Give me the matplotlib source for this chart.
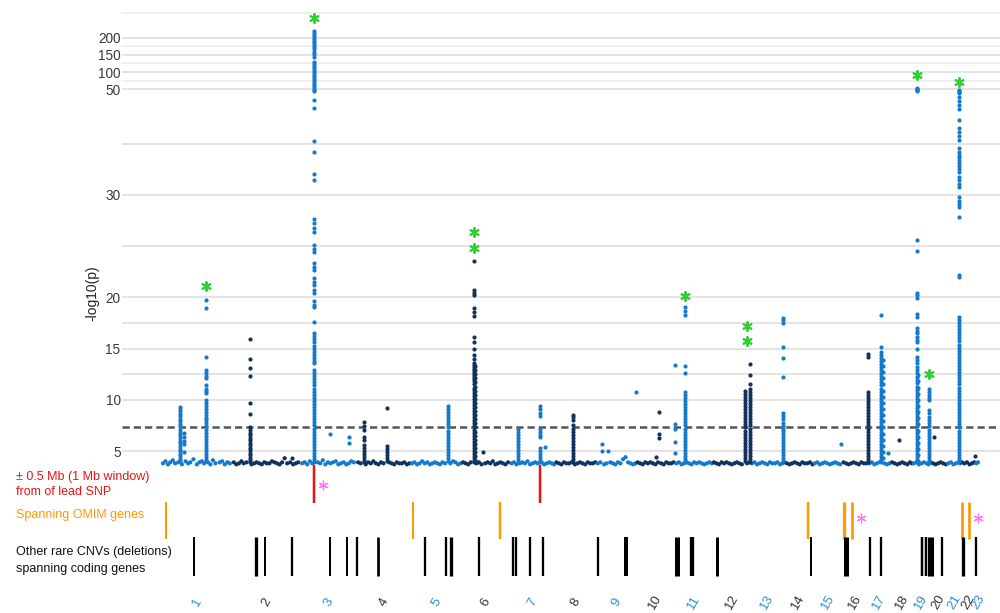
import numpy as np
import matplotlib
matplotlib.use("Agg")
import matplotlib.pyplot as plt

plt.rcParams['font.family'] = ['Liberation Sans', 'DejaVu Sans']

# ---------------- data ----------------
chrom_names = [str(i) for i in range(1, 24)]
chrom_len_mb = [249.3, 243.2, 198.0, 191.2, 180.9, 171.1, 159.1, 146.4, 141.2, 135.5,
                135.0, 133.9, 115.2, 107.3, 102.5, 90.4, 81.2, 78.1, 59.1, 63.0,
                48.1, 51.3, 18.0]

# association peaks: chromosome, position within chromosome (Mb), -log10(p) values
peak_chr = [1, 1, 1, 2, 2, 3, 3, 3, 4, 4,
            5, 6, 6, 6, 7, 7, 7, 8, 9, 9,
            9, 10, 10, 11, 11, 12, 12, 13, 15, 16,
            17, 17, 17, 18, 19, 19, 19, 20, 21, 22]
peak_pos = [66, 78.6, 156.5, 63, 211.7, 47.5, 103, 170.5, 25.5, 107,
            132, 43, 45, 76, 27.6, 103.7, 123, 63, 18.5, 42,
            139, 80, 70, 1.5, 37, 114, 132.5, 114, 98, 89.5,
            48, 52, 71, 29, 14, 16.5, 57, 15, 42, 50]
peak_vals = [
    [9.3, 9.1, 8.9, 8.6, 8.4, 8.1, 7.9, 7.6, 7.4, 7.1, 6.8, 6.6, 6.3, 6.0, 5.8, 5.5, 5.2, 5.0, 4.7, 4.5, 4.2, 4.0],
    [6.8, 6.4, 6.0, 5.7, 4.9],
    [19.7, 19.0, 14.2, 12.9, 12.6, 12.3, 12.1, 11.4, 11.1, 10.9, 10.7, 10.0, 9.7, 9.4, 9.1, 8.8, 8.5, 8.2, 8.0,
     7.7, 7.4, 7.1, 6.8, 6.5, 6.2, 5.9, 5.6, 5.3, 5.0, 4.7, 4.4, 4.1],
    [15.9, 14.0, 13.1, 12.3, 9.7, 8.6, 7.3, 7.1, 6.8, 6.6, 6.3, 6.1, 5.8, 5.6, 5.3, 5.1, 4.8, 4.6, 4.3, 4.1, 3.9],
    [4.3],
    [221, 215, 208, 202, 196, 190, 184, 178, 172, 166, 158, 152, 145, 130, 124, 118, 112, 106, 100, 94, 88, 82,
     76, 70, 64, 58, 52, 47, 43, 39.3, 38.5, 35.3, 34.2, 32.0, 31.5, 27.7, 27.3, 26.8, 26.4, 25.1, 24.7, 24.4,
     23.4, 23.0, 22.7, 21.9, 21.5, 21.2, 20.7, 20.4, 19.6, 19.3, 19.1, 17.6, 16.5, 16.2, 15.9, 15.6, 15.3, 15.0,
     14.7, 14.4, 14.1, 13.8, 13.6, 12.9, 12.6, 12.3, 12.0, 11.7, 11.4, 11.1, 10.8, 10.5, 10.2, 9.9, 9.6, 9.3,
     9.0, 8.7, 8.4, 8.1, 7.8, 7.5, 7.2, 6.9, 6.6, 6.3, 6.0, 5.7, 5.4, 5.1, 4.8, 4.5, 4.2, 3.9],
    [6.7],
    [6.4, 5.8],
    [7.8, 7.4, 7.1, 6.4, 6.1, 5.6, 5.3, 5.0, 4.7, 4.4, 4.1, 3.9],
    [9.2, 5.5, 5.2, 4.9, 4.6, 4.3, 4.0],
    [9.4, 9.1, 8.8, 8.5, 8.2, 7.9, 7.6, 7.3, 7.0, 6.7, 6.4, 6.1, 5.8, 5.5, 5.2, 4.9, 4.6, 4.3, 4.0],
    [23.6, 20.7, 20.4, 20.2, 19.0, 18.6, 18.2, 16.1, 15.6, 15.0, 14.4, 14.0, 13.6, 13.4, 13.2, 13.0, 12.8, 12.6,
     12.4, 12.2, 12.0, 11.8, 11.5, 11.2, 11.0, 10.7, 10.4, 10.1, 9.8, 9.5, 9.2, 8.9, 8.6, 8.3, 8.0, 7.7, 7.4,
     7.1, 6.8, 6.5, 6.2, 5.9, 5.6, 5.3, 5.0, 4.7, 4.4, 4.1, 3.9],
    [13.3, 12.9, 12.5, 12.1, 11.7, 11.3, 10.9, 10.5, 10.1, 9.7, 9.3, 8.9, 8.5, 8.1, 7.7, 7.3, 6.9, 6.5, 6.1, 5.7,
     5.3, 4.9, 4.5, 4.1],
    [4.9],
    [7.2, 6.9, 6.6, 6.3, 6.0, 5.7, 5.4, 5.1, 4.8, 4.5, 4.2, 3.9],
    [9.4, 9.1, 8.7, 8.4, 7.2, 6.9, 6.6, 6.4, 5.3, 5.0, 4.7, 4.4, 4.1, 3.9],
    [5.4],
    [8.5, 8.3, 8.0, 7.5, 7.2, 6.9, 6.6, 6.3, 6.0, 5.7, 5.4, 5.1, 4.8, 4.5, 4.2, 3.9],
    [5.7, 5.0],
    [5.0],
    [10.8],
    [8.8, 6.7, 6.3],
    [4.4],
    [13.4, 7.6, 7.2, 5.9, 4.8],
    [19.1, 18.7, 18.3, 13.3, 12.6, 10.8, 10.5, 10.2, 9.9, 9.6, 9.3, 9.0, 8.7, 8.4, 8.1, 7.8, 7.5, 7.2, 6.9, 6.6,
     6.3, 6.0, 5.7, 5.4, 5.1, 4.8, 4.5, 4.2, 3.9],
    [10.9, 10.6, 10.3, 10.0, 9.7, 9.4, 9.1, 8.8, 8.5, 8.2, 7.9, 7.6, 7.3, 7.0, 6.7, 6.4, 6.1, 5.8, 5.5, 5.2, 4.9,
     4.6, 4.3, 4.0],
    [13.5, 12.4, 11.5, 11.1, 10.8, 10.5, 10.2, 9.9, 9.6, 9.3, 9.0, 8.7, 8.4, 8.1, 7.8, 7.5, 7.2, 6.9, 6.6, 6.3,
     6.0, 5.7, 5.4, 5.1, 4.8, 4.5, 4.2, 3.9],
    [18.0, 17.8, 17.5, 15.2, 14.1, 12.2, 8.7, 8.4, 8.1, 7.7, 7.4, 7.2, 7.0, 6.7, 6.4, 6.1, 5.8, 5.5, 5.2, 4.9,
     4.6, 4.3, 4.0],
    [5.7],
    [14.5, 14.2, 10.8, 10.5, 10.2, 9.9, 9.6, 9.3, 9.0, 8.7, 8.4, 8.1, 7.8, 7.5, 7.2, 6.9, 6.6, 6.3, 6.0, 5.7,
     5.4, 5.1, 4.8, 4.5, 4.2, 3.9],
    [18.3, 15.2, 14.7, 14.4, 14.1, 13.8, 13.5, 13.2, 12.9, 12.6, 12.3, 12.0, 11.7, 11.4, 11.1, 10.8, 10.5, 10.2,
     9.9, 9.6, 9.3, 9.0, 8.7, 8.4, 8.1, 7.8, 7.5, 7.2, 6.9, 6.6, 6.3, 6.0, 5.7, 5.4, 5.1, 4.8, 4.5, 4.2, 3.9],
    [13.9, 13.3, 12.7, 12.1, 11.5, 10.9, 10.3, 9.7, 9.1, 8.5, 7.9, 7.3, 6.7, 6.1, 5.5, 4.9, 4.3],
    [4.8],
    [6.1],
    [52, 50, 48, 46, 44, 25.6, 24.5, 20.4, 20.2, 19.9, 18.4, 18.1, 17.0, 16.7, 16.5, 16.1, 15.8, 15.6, 15.0,
     14.2, 13.9, 13.6, 13.2, 12.9, 12.6, 12.2, 11.9, 11.6, 11.3, 11.0, 10.7, 10.4, 10.1, 9.8, 9.5, 9.2, 8.9,
     8.6, 8.3, 8.0, 7.7, 7.4, 7.1, 6.8, 6.5, 6.2, 5.9, 5.6, 5.3, 5.0, 4.7, 4.4, 4.1, 3.9],
    [12.4, 11.8, 11.2, 10.6, 10.0, 9.4, 8.8, 8.2, 7.6, 7.0, 6.4, 5.8, 5.2, 4.6, 4.0],
    [11.1, 10.8, 10.5, 10.2, 10.0, 9.0, 8.7, 8.3, 8.0, 7.7, 7.4, 7.1, 6.8, 6.5, 6.2, 5.9, 5.6, 5.3, 5.0, 4.7,
     4.4, 4.1, 3.9],
    [6.4],
    [48, 45, 42, 40, 39.6, 39.2, 38.8, 38.4, 37.3, 36.5, 36.1, 35.8, 35.4, 34.6, 34.2, 33.9, 33.7, 33.4, 33.1,
     32.8, 32.5, 32.2, 31.8, 31.5, 31.1, 30.8, 29.8, 29.4, 29.1, 28.8, 27.8, 22.2, 22.0, 18.1, 17.8, 17.5, 17.2,
     16.9, 16.6, 16.3, 16.0, 15.7, 15.4, 15.1, 14.8, 14.5, 14.2, 13.9, 13.6, 13.3, 13.0, 12.7, 12.4, 12.1, 11.8,
     11.5, 11.2, 10.9, 10.6, 10.3, 10.0, 9.7, 9.4, 9.1, 8.8, 8.5, 8.2, 7.9, 7.6, 7.3, 7.0, 6.7, 6.4, 6.1, 5.8,
     5.5, 5.2, 4.9, 4.6, 4.3, 4.0],
    [4.5],
]

# background (non-significant) SNPs: genome-wide position (Mb) and -log10(p)
base_gpos = [
    4, 13, 22, 30, 39, 47, 58, 71, 84, 93, 101, 112, 124, 133, 142, 150, 163, 172, 181, 190, 205, 214, 223, 232, 241,
    255, 264, 273, 282, 290, 300, 318, 327, 336, 345, 354, 363, 372, 381, 390, 399, 408, 417, 426, 435, 444, 455, 465, 474, 483,
    497, 506, 515, 524, 533, 552, 561, 570, 579, 588, 597, 606, 616, 625, 634, 644, 653, 662, 671, 680,
    695, 704, 722, 731, 740, 749, 758, 767, 776, 785, 805, 814, 823, 832, 841, 850, 859, 868, 877,
    886, 895, 904, 913, 922, 931, 940, 949, 958, 967, 976, 985, 994, 1003, 1022, 1031, 1040, 1049, 1058,
    1067, 1076, 1085, 1094, 1114, 1123, 1132, 1145, 1154, 1163, 1172, 1181, 1190, 1199, 1208, 1217, 1226,
    1238, 1247, 1256, 1268, 1277, 1286, 1295, 1304, 1313, 1322, 1331, 1345, 1354, 1363, 1372, 1381, 1389,
    1397, 1406, 1415, 1424, 1433, 1442, 1451, 1463, 1472, 1481, 1490, 1499, 1508, 1517, 1526, 1535,
    1544, 1553, 1566, 1575, 1588, 1597, 1606, 1615, 1624, 1633, 1642, 1651, 1660, 1669, 1677,
    1685, 1694, 1703, 1712, 1721, 1730, 1739, 1748, 1757, 1768, 1777, 1786, 1795, 1804, 1812,
    1822, 1831, 1840, 1849, 1858, 1867, 1876, 1885, 1894, 1903, 1912, 1921, 1930, 1939, 1948,
    1955, 1964, 1973, 1982, 1991, 2000, 2009, 2018, 2027, 2036, 2045, 2054, 2072, 2081,
    2090, 2099, 2108, 2117, 2126, 2135, 2144, 2153, 2162, 2171, 2180, 2189, 2197,
    2205, 2214, 2223, 2232, 2241, 2250, 2259, 2268, 2277, 2286, 2295, 2304,
    2312, 2321, 2330, 2339, 2348, 2357, 2366, 2375, 2384, 2393, 2402,
    2414, 2423, 2432, 2441, 2450, 2459, 2468, 2477, 2486, 2495,
    2505, 2514, 2523, 2532, 2541, 2559, 2568, 2577,
    2586, 2595, 2604, 2613, 2622, 2631, 2640, 2649, 2656,
    2663, 2672, 2681, 2690, 2699, 2708, 2715,
    2722, 2731, 2740, 2749, 2758, 2767, 2776,
    2785, 2794, 2803, 2812, 2821, 2827,
    2833, 2842, 2851, 2860, 2869, 2877,
    2884, 2890,
]
base_val = [
    3.8, 4.0, 3.7, 3.9, 4.1, 3.8, 3.9, 3.7, 4.0, 3.8, 3.9, 4.2, 3.7, 3.9, 4.0, 3.8, 3.9, 3.7, 4.1, 3.8, 3.9, 4.0, 3.7, 3.9, 3.8,
    3.9, 3.7, 3.8, 4.0, 3.8, 3.9, 3.7, 3.8, 3.9, 3.8, 3.7, 3.9, 3.8, 3.8, 4.0, 3.9, 3.8, 3.7, 3.9, 4.3, 3.8, 3.9, 3.7, 3.8, 3.9,
    3.8, 3.9, 3.7, 4.0, 3.8, 3.9, 3.8, 4.1, 3.7, 3.9, 3.8, 3.9, 4.0, 3.7, 3.8, 3.9, 3.7, 3.8, 4.0, 3.9,
    3.9, 3.8, 3.7, 3.9, 3.8, 4.0, 3.8, 3.7, 3.9, 3.8, 3.9, 3.8, 3.7, 3.9, 3.8, 3.8, 3.9, 3.7, 3.8,
    3.8, 3.9, 3.7, 3.8, 4.0, 3.8, 3.9, 3.7, 3.8, 3.9, 3.8, 3.7, 3.9, 3.8, 3.8, 4.0, 3.9, 3.7, 3.8,
    3.9, 3.8, 3.7, 3.9, 3.8, 3.9, 3.7, 3.8, 3.9, 3.8, 4.0, 3.7, 3.8, 3.9, 3.8, 3.7, 3.9,
    3.8, 3.9, 3.7, 3.8, 3.9, 3.8, 4.0, 3.7, 3.8, 3.9, 3.8, 3.9, 3.7, 3.8, 3.9, 3.8, 3.7,
    3.9, 3.8, 3.7, 3.9, 3.8, 3.8, 3.9, 3.7, 3.8, 3.9, 3.8, 3.7, 3.9, 3.8, 3.8, 3.9,
    3.8, 3.9, 3.7, 3.8, 3.9, 3.8, 3.7, 3.9, 3.8, 4.2, 4.4, 3.9, 3.8, 3.7, 3.8,
    3.9, 3.8, 3.7, 3.9, 3.8, 3.9, 3.8, 3.7, 3.9, 3.8, 3.7, 3.9, 3.8, 3.8, 3.9,
    3.8, 3.9, 3.7, 3.8, 3.9, 3.8, 3.7, 3.9, 3.8, 3.9, 3.8, 3.7, 3.8, 3.9, 3.8,
    3.9, 3.8, 3.7, 3.9, 3.8, 3.9, 3.8, 3.7, 3.8, 3.9, 3.8, 3.7, 3.8, 3.9,
    3.8, 3.9, 3.7, 3.8, 3.9, 3.8, 3.7, 3.9, 3.8, 3.8, 3.9, 3.7, 3.8,
    3.9, 3.8, 3.7, 3.8, 3.9, 3.8, 3.7, 3.9, 3.8, 3.8, 3.9, 3.7,
    3.8, 3.9, 3.7, 3.8, 3.9, 3.8, 3.7, 3.8, 3.9, 3.8, 3.7,
    3.9, 3.8, 3.7, 3.8, 3.9, 3.8, 3.7, 3.9, 3.8, 3.8,
    3.8, 3.9, 3.7, 3.8, 3.9, 3.8, 3.7, 3.8,
    3.9, 3.8, 3.7, 3.8, 3.9, 3.8, 3.7, 3.9, 3.8,
    3.8, 3.9, 3.7, 3.8, 3.9, 3.8, 3.7,
    3.9, 3.8, 3.7, 3.8, 3.9, 3.8, 3.7,
    3.8, 3.9, 3.7, 3.8, 3.9, 3.8,
    3.9, 3.8, 3.9, 3.7, 3.8, 3.9,
    3.8, 3.9,
]

# lead-SNP markers (green asterisks)
star_chr = [1, 3, 6, 6, 11, 12, 12, 19, 19, 21]
star_pos = [156.5, 47.5, 43, 43, 37, 121.5, 121.5, 14.5, 57, 42]
star_val = [21.1, 258, 26.4, 24.8, 20.1, 17.2, 15.7, 91, 12.5, 71]

sig_threshold = 7.3

# annotation tracks (genome-wide positions, Mb)
window_chr = [3, 7]
window_pos = [47.5, 103.7]
omim_gpos = [14.9, 891, 1198, 2288, 2416, 2444, 2833.5, 2858.3]
cnv_gpos = [115.1, 333.6, 365.5, 462.1, 595.6, 656.9, 690.1, 764.5, 932.0, 1006.4,
            1023.0, 1123.2, 1244.7, 1253.2, 1303.8, 1350.9, 1545.7, 1643.7, 1823.3, 1876.4,
            1967.0, 2297.8, 2421.7, 2507.7, 2546.7, 2692.9, 2705.0, 2717.7, 2727.3, 2761.6,
            2836.0, 2883.1]
pink_star_gpos = [569.8, 2474.8, 2890]
pink_star_track = ['window', 'omim', 'omim']

# ---------------- styles ----------------
omim_lw_px = [2, 2, 2.5, 2.5, 3.3, 2.7, 2.7, 2.7]
cnv_lw_px = [2, 3.3, 2, 2.3, 2, 2, 2.3, 2.7, 2.3, 2.3,
             3.3, 2.3, 2.3, 2.3, 2.3, 2.3, 2.3, 4, 5, 4.3,
             3, 2, 5, 2.3, 2.3, 2.5, 2.5, 3, 3, 2.3,
             3.3, 2.3]
BLUE = '#1579cc'
DARK = '#12325e'

offsets = np.concatenate([[0.0], np.cumsum(chrom_len_mb)[:-1]])
centers = offsets + np.array(chrom_len_mb) / 2.0


def chrom_color(c):
    return BLUE if c % 2 == 1 else DARK


# piecewise y scale: linear up to 40, compressed above
BREAK, COMP = 40.0, 30.0


def fwd(v):
    v = np.asarray(v, dtype=float)
    return np.where(v <= BREAK, v, BREAK + (v - BREAK) / COMP)


def inv(t):
    t = np.asarray(t, dtype=float)
    return np.where(t <= BREAK, t, BREAK + (t - BREAK) * COMP)


W, H = 1000, 613
fig = plt.figure(figsize=(W / 100, H / 100), dpi=100)
ax_left, ax_right = 122, 1000
ax_top, ax_bot = 13.3, 470
ax = fig.add_axes([ax_left / W, 1 - ax_bot / H, (ax_right - ax_left) / W, (ax_bot - ax_top) / H])
ax.set_yscale('function', functions=(fwd, inv))
ax.set_ylim(3.15, 272)
ax.set_xlim(-141, 2968)

for s in ax.spines.values():
    s.set_visible(False)
ax.set_xticks([])

major = [5, 10, 15, 20, 30, 50, 100, 150, 200]
ax.set_yticks(major)
ax.set_yticklabels([str(m) for m in major])
ax.tick_params(axis='y', length=0, pad=1, labelsize=9.8, labelcolor='#3a3a3a')

grid_strong = [5, 10, 12.5, 15, 17.5, 20, 25, 30, 35, 50, 100, 150, 200]
grid_faint = [75, 125, 175, 272]
for g in grid_strong:
    ax.axhline(g, color='#e2e2e2', lw=1.3, zorder=0)
for g in grid_faint:
    ax.axhline(g, color='#ececec', lw=1.2, zorder=0, clip_on=False)
ax.axhline(sig_threshold, color='#555555', lw=1.8, dashes=(2.9, 1.6), zorder=1)

# background points
bx = np.array(base_gpos, dtype=float)
bidx = np.clip(np.searchsorted(offsets, bx, side='right') - 1, 0, len(offsets) - 1)
bcol = [chrom_color(i + 1) for i in bidx]
ax.scatter(bx, base_val, s=9, c=bcol, linewidths=0, zorder=2, clip_on=False)

# peaks
for c, p, vals in zip(peak_chr, peak_pos, peak_vals):
    x = np.full(len(vals), offsets[c - 1] + p)
    ax.scatter(x, vals, s=9, color=chrom_color(c), linewidths=0, zorder=3, clip_on=False)

# green stars
sx = [offsets[c - 1] + p for c, p in zip(star_chr, star_pos)]
ax.scatter(sx, star_val, marker=(6, 2, 0), s=42, color='#2ed12e', linewidths=1.4, zorder=4, clip_on=False)

fig.text(92 / W, 1 - 293 / H, '-log10(p)', rotation=90, ha='center', va='center',
         fontsize=10, color='#222222')

# ---------------- tracks ----------------
axt = fig.add_axes([ax_left / W, 0, (ax_right - ax_left) / W, (H - 465) / H])
axt.set_xlim(ax.get_xlim())
axt.set_ylim(H, 465)
axt.axis('off')
axt.patch.set_alpha(0)

wx = [offsets[c - 1] + p for c, p in zip(window_chr, window_pos)]
axt.vlines(wx, 465, 503, color='#ee1111', lw=2.5 * 0.72)
axt.vlines(omim_gpos, 502, 539, color='#ff9a00', lw=[w * 0.72 for w in omim_lw_px])
axt.vlines(cnv_gpos, 537, 576, color='#000000', lw=[w * 0.72 for w in cnv_lw_px])

track_y = {'window': 485, 'omim': 518}
axt.scatter(pink_star_gpos, [track_y[t] for t in pink_star_track], marker=(6, 2, 0), s=40,
            color='#ff77ff', linewidths=0.9, clip_on=False)

fig.text(16 / W, 1 - 477 / H, '± 0.5 Mb (1 Mb window)', color='#ee1111', fontsize=9, va='center')
fig.text(16 / W, 1 - 492 / H, 'from of lead SNP', color='#ee1111', fontsize=9, va='center')
fig.text(16 / W, 1 - 515 / H, 'Spanning OMIM genes', color='#ff9a00', fontsize=9, va='center')
fig.text(16 / W, 1 - 552 / H, 'Other rare CNVs (deletions)', color='#111111', fontsize=9, va='center')
fig.text(16 / W, 1 - 569 / H, 'spanning coding genes', color='#111111', fontsize=9, va='center')

for i, name in enumerate(chrom_names):
    col = '#2a8fd8' if (i + 1) % 2 == 1 else '#333333'
    axt.text(centers[i], 602, name, rotation=60, ha='center', va='center', fontsize=9.5,
             color=col, clip_on=False)

fig.savefig('out.png', dpi=100)
